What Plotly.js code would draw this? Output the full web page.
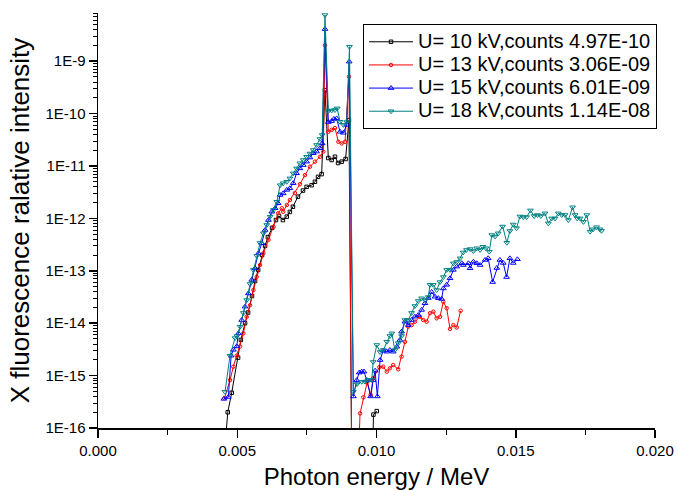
<!DOCTYPE html>
<html>
<head>
<meta charset="utf-8">
<script src="https://cdn.plot.ly/plotly-3.0.1.min.js"></script>
<style>html,body{margin:0;padding:0;background:#fff;}#chart{width:678px;height:490px;}</style>
</head>
<body>
<div id="chart"></div>
<script>
// Series names
const seriesNames = [
  "U= 10 kV,counts 4.97E-10",
  "U= 13 kV,counts 3.06E-09",
  "U= 15 kV,counts 6.01E-09",
  "U= 18 kV,counts 1.14E-08"
];

// U = 10 kV
const energy10 = [0.00460,0.00466,0.00480,0.00503,0.00513,0.00528,0.00539,0.00553,0.00564,0.00575,
  0.00589,0.00600,0.00610,0.00625,0.00639,0.00650,0.00664,0.00678,0.00689,0.00700,
  0.00718,0.00736,0.00749,0.00767,0.00779,0.00790,0.00803,0.00815,0.00827,0.00839,
  0.00851,0.00862,0.00875,0.00889,0.00901,0.00913,0.00982,0.00989,0.01001];
const intensity10 = [8e-17,2.0e-16,4.7e-16,2.2e-15,4.8e-15,1.0e-14,1.6e-14,3.3e-14,6.4e-14,1.04e-13,
  2.0e-13,3.0e-13,4.4e-13,6.6e-13,9.3e-13,1.11e-12,9.3e-13,1.08e-12,1.33e-12,1.67e-12,
  2.6e-12,3.4e-12,4.0e-12,4.3e-12,5.0e-12,6.2e-12,7.0e-12,2.8e-10,1.42e-11,1.30e-11,
  1.5e-11,1.14e-11,1.21e-11,1.36e-11,7.5e-11,1e-18,1e-18,1.8e-16,2.1e-16];

// U = 13 kV
const energy13 = [0.00454,0.00474,0.00486,0.00498,0.00510,0.00522,0.00534,0.00546,0.00558,0.00570,
  0.00582,0.00594,0.00612,0.00630,0.00647,0.00660,0.00665,0.00678,0.00689,0.00707,
  0.00725,0.00743,0.00761,0.00779,0.00797,0.00809,0.00815,0.00827,0.00839,0.00851,
  0.00863,0.00875,0.00887,0.00901,0.00913,0.00925,
  0.00941,0.00953,0.00967,0.00979,0.00988,0.01010,0.01024,0.01037,0.01048,0.01060,
  0.01078,0.01090,0.01102,0.01114,0.01126,0.01138,0.01156,0.01168,0.01180,0.01192,
  0.01204,0.01216,0.01228,0.01240,0.01252,0.01264,0.01276,0.01288,0.01302];
const intensity13 = [3.7e-16,8.2e-16,1.48e-15,2.4e-15,3.6e-15,6.4e-15,1.33e-14,2.2e-14,4.3e-14,7.7e-14,
  1.29e-13,2.16e-13,3.9e-13,6.9e-13,1.25e-12,1.56e-12,1.34e-12,1.8e-12,2.24e-12,3.05e-12,
  4.5e-12,6.7e-12,9.7e-12,1.21e-11,1.5e-11,1.88e-11,2.0e-9,4.5e-11,4.9e-11,5.3e-11,
  2.9e-11,2.7e-11,2.9e-11,5.1e-10,1e-18,1e-18,
  1.9e-16,3.85e-16,7.6e-16,4.3e-16,8.9e-16,1.44e-15,1.48e-15,1.19e-15,1.38e-15,1.59e-15,
  1.32e-15,2.3e-15,4.4e-15,8.6e-15,9.2e-15,1.07e-14,1.33e-14,1.15e-14,1.07e-14,1.55e-14,
  1.66e-14,1.24e-14,1.33e-14,2.57e-14,1.93e-14,7.8e-15,9.2e-15,8.3e-15,1.73e-14];

// U = 15 kV
const energy15 = [0.00452,0.00468,0.00478,0.00486,0.00498,0.00504,0.00516,0.00528,0.00540,0.00552,
  0.00564,0.00576,0.00588,0.00600,0.00612,0.00624,0.00636,0.00647,0.00654,0.00665,
  0.00678,0.00689,0.00701,0.00713,0.00725,0.00737,0.00749,0.00761,0.00773,0.00785,
  0.00797,0.00805,0.00815,0.00827,0.00839,0.00847,0.00857,0.00869,0.00881,0.00893,
  0.00902,
  0.00917,0.00929,0.00938,0.00947,0.00955,0.00965,0.00979,0.00988,0.00995,
  0.01003,0.01013,0.01024,0.01037,0.01048,0.01060,0.01073,0.01084,0.01090,0.01102,
  0.01114,0.01126,0.01138,0.01150,0.01162,0.01174,0.01186,0.01198,0.01210,0.01222,
  0.01234,0.01240,0.01252,0.01264,0.01276,0.01288,0.01306,0.01312,0.01330,0.01336,
  0.01348,0.01360,0.01372,0.01390,0.01401,0.01417,0.01432,0.01443,0.01455,0.01467,
  0.01479,0.01491,0.01506];
const intensity15 = [3.6e-16,3.9e-16,2.4e-15,3.1e-15,3.6e-15,6.4e-15,1.15e-14,2.07e-14,3.7e-14,6.7e-14,
  1.12e-13,2.16e-13,3.35e-13,6.0e-13,9.3e-13,1.34e-12,1.56e-12,1.94e-12,2.8e-12,3.0e-12,
  3.5e-12,3.75e-12,4.7e-12,7.25e-12,9.0e-12,1.04e-11,1.21e-11,1.45e-11,1.75e-11,1.88e-11,
  2.18e-11,2.7e-11,4.1e-9,6.9e-11,7.2e-11,7.9e-11,8.1e-11,4.5e-11,4.3e-11,6.1e-11,
  9.8e-10,
  4.0e-16,8.2e-16,1.14e-15,1.19e-15,1.19e-15,8.2e-16,4.0e-16,8.2e-16,1.24e-15,
  4.0e-16,1.98e-15,3.0e-15,2.86e-15,3.08e-15,2.86e-15,3.56e-15,4.78e-15,6.9e-15,1.07e-14,
  9.2e-15,1.15e-14,1.33e-14,1.43e-14,1.79e-14,2.4e-14,3.02e-14,3.94e-14,3.2e-14,3.0e-14,
  2.9e-14,4.6e-14,5.4e-14,7.2e-14,1.04e-13,1.2e-13,1.39e-13,1.29e-13,1.39e-13,1.12e-13,
  1.49e-13,1.39e-13,1.29e-13,1.61e-13,1.73e-13,6.1e-14,1.13e-13,1.61e-13,1.41e-13,7.6e-14,
  1.73e-13,1.41e-13,1.66e-13];

// U = 18 kV
const energy18 = [0.00456,0.00474,0.00492,0.00499,0.00510,0.00522,0.00534,0.00546,0.00558,0.00570,
  0.00582,0.00594,0.00606,0.00618,0.00630,0.00642,0.00654,0.00665,0.00678,0.00689,
  0.00701,0.00713,0.00725,0.00737,0.00749,0.00761,0.00773,0.00785,0.00797,0.00805,
  0.00815,0.00827,0.00839,0.00851,0.00859,0.00869,0.00881,0.00893,0.00903,
  0.00917,0.00930,0.00947,0.00959,0.00971,0.00983,0.00988,0.01001,0.01013,0.01024,
  0.01037,0.01048,0.01055,0.01066,0.01078,0.01090,0.01102,0.01114,0.01126,0.01138,
  0.01150,0.01162,0.01174,0.01186,0.01192,0.01204,0.01216,0.01228,0.01240,0.01252,
  0.01264,0.01276,0.01288,0.01300,0.01311,0.01323,0.01336,0.01348,0.01360,0.01372,
  0.01382,0.01393,0.01405,0.01414,0.01426,0.01437,0.01453,0.01468,0.01479,0.01491,
  0.01503,0.01515,0.01527,0.01539,0.01553,0.01566,0.01578,0.01590,0.01605,0.01617,
  0.01629,0.01641,0.01653,0.01665,0.01677,0.01689,0.01704,0.01713,0.01721,0.01731,
  0.01743,0.01755,0.01767,0.01778,0.01790,0.01802,0.01808];
const intensity18 = [4.9e-16,2.4e-15,5.2e-15,5.7e-15,8.6e-15,1.57e-14,2.77e-14,5.6e-14,1.04e-13,1.92e-13,
  3.4e-13,5.2e-13,7.5e-13,1.08e-12,1.45e-12,2.08e-12,4.3e-12,4.7e-12,5.0e-12,5.8e-12,
  7.25e-12,9.0e-12,1.13e-11,1.30e-11,1.5e-11,1.73e-11,2.02e-11,2.52e-11,3.28e-11,3.9e-11,
  7.6e-9,1.12e-10,1.15e-10,1.17e-10,1.26e-10,7.0e-11,6.1e-11,6.9e-11,1.89e-9,
  4.9e-16,6.9e-16,7.65e-16,7.65e-16,8.25e-16,8.25e-16,1.82e-15,3.84e-15,2.82e-15,3.08e-15,
  4.44e-15,5.7e-15,6.4e-15,3.08e-15,4.14e-15,5.7e-15,1.15e-14,1.15e-14,1.57e-14,2.13e-14,
  2.65e-14,2.99e-14,2.77e-14,3.16e-14,5.4e-14,5.4e-14,4.3e-14,6.1e-14,7.6e-14,1.04e-13,
  1.04e-13,1.39e-13,1.47e-13,1.73e-13,2.24e-13,2.5e-13,2.6e-13,2.39e-13,2.69e-13,2.5e-13,
  2.88e-13,2.69e-13,2.32e-13,4.82e-13,4.52e-13,5.2e-13,7.0e-13,3.44e-13,5.75e-13,7.65e-13,
  6.5e-13,1.09e-12,1.06e-12,1.06e-12,1.42e-12,1.11e-12,1.16e-12,1.11e-12,1.25e-12,8.05e-13,
  1.0e-12,1.0e-12,1.25e-12,1.16e-12,1.16e-12,9.3e-13,1.63e-12,1.16e-12,1.0e-12,1.0e-12,
  8.6e-13,1.16e-12,5.6e-13,6.2e-13,6.8e-13,6.2e-13,5.8e-13];

// Tick labels
const xTickVals = [0, 0.005, 0.010, 0.015, 0.020];
const xTickText = ["0.000", "0.005", "0.010", "0.015", "0.020"];
const yTickVals = [1e-16, 1e-15, 1e-14, 1e-13, 1e-12, 1e-11, 1e-10, 1e-9];
const yTickText = ["1E-16", "1E-15", "1E-14", "1E-13", "1E-12", "1E-11", "1E-10", "1E-9"];

const colors = ["#000000", "#FF0000", "#0000FF", "#008080"];
const symbols = ["square-open", "circle-open", "triangle-up-open", "triangle-down-open"];
const sizes = [3.5, 3.5, 5, 5];
const xs = [energy10, energy13, energy15, energy18];
const ys = [intensity10, intensity13, intensity15, intensity18];

const traces = xs.map((x, i) => ({
  type: "scatter",
  mode: "lines+markers",
  x: x,
  y: ys[i],
  name: '<span style="font-size:20px">' + seriesNames[i] + '</span>',
  line: {color: colors[i], width: 1},
  marker: {symbol: symbols[i], size: sizes[i], color: colors[i], line: {color: colors[i], width: 1}},
  hoverinfo: "skip"
}));

// minor log ticks (axis decoration)
const yMinor = [];
for (let e = -16; e <= -9; e++) {
  for (let m = 2; m <= 9; m++) yMinor.push(m * Math.pow(10, e));
}

const font = "Arial, 'Liberation Sans', sans-serif";
const layout = {
  width: 678, height: 490,
  margin: {l: 98, r: 23, t: 13, b: 62},
  paper_bgcolor: "#fff", plot_bgcolor: "#fff",
  font: {family: font, color: "#000"},
  showlegend: true,
  legend: {
    x: 0.4758, y: 0.973, xanchor: "left", yanchor: "top",
    bgcolor: "#fff", bordercolor: "#000", borderwidth: 1,
    font: {family: font, size: 15.5, color: "#000"},
    itemwidth: 44
  },
  xaxis: {
    range: [0, 0.02],
    tickmode: "array", tickvals: xTickVals, ticktext: xTickText,
    ticks: "outside", ticklen: 8, tickwidth: 1.5, tickcolor: "#000",
    minor: {ticks: "outside", ticklen: 5, tickwidth: 1, tickcolor: "#000", dtick: 0.0025, tick0: 0, showgrid: false},
    showline: true, linecolor: "#000", linewidth: 1.5,
    showgrid: false, zeroline: false,
    tickfont: {family: font, size: 15, color: "#000"},
    title: {text: "Photon energy / MeV", font: {family: font, size: 24, color: "#000"}, standoff: 11}
  },
  yaxis: {
    type: "log",
    range: [-16, -8.08],
    tickmode: "array", tickvals: yTickVals, ticktext: yTickText,
    ticks: "outside", ticklen: 8, tickwidth: 1.5, tickcolor: "#000",
    minor: {ticks: "outside", ticklen: 4, tickwidth: 1, tickcolor: "#000", tickmode: "array", tickvals: yMinor, showgrid: false},
    showline: true, linecolor: "#000", linewidth: 1.5,
    showgrid: false, zeroline: false,
    tickfont: {family: font, size: 15, color: "#000"},
    title: {text: "X fluorescence ralative intensity", font: {family: font, size: 26, color: "#000"}, standoff: 8}
  }
};

Plotly.newPlot("chart", traces, layout, {staticPlot: true, displayModeBar: false});
</script>
</body>
</html>
